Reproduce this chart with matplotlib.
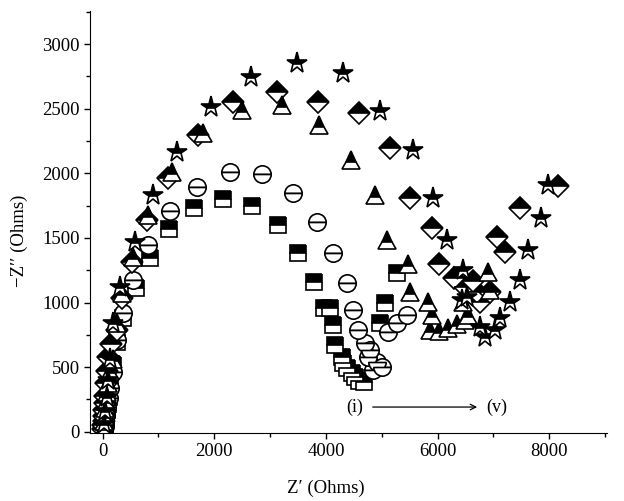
import matplotlib
matplotlib.use("Agg")
from matplotlib import pyplot as plt
from matplotlib.ticker import MultipleLocator

plt.rcParams["font.family"] = ["Liberation Serif", "DejaVu Serif"]

# (i) squares
sq_x = [20, 30, 40, 50, 60, 75, 90, 107, 131, 180, 256, 364, 591, 847, 1187, 1635, 2149, 2674, 3140,
        3498, 3785, 3964, 4076, 4131, 4161, 4281, 4310, 4370, 4460, 4519, 4600, 4680, 4967, 5060, 5280]
sq_y = [10, 30, 55, 85, 120, 165, 215, 270, 377, 520, 695, 880, 1112, 1344, 1569, 1731, 1801, 1747, 1600,
        1383, 1158, 957, 956, 826, 671, 580, 531, 493, 454, 426, 395, 385, 841, 994, 1228]

# (ii) circles
ci_x = [25, 35, 50, 65, 85, 110, 140, 190, 256, 364, 543, 812, 1205, 1691, 2284, 2853, 3403, 3833, 4125,
        4370, 4490, 4580, 4700, 4790, 4752, 4843, 4908, 4997, 5116, 5266, 5445]
ci_y = [15, 45, 85, 130, 190, 260, 340, 460, 710, 920, 1174, 1444, 1708, 1894, 2012, 1995, 1848, 1625, 1383,
        1149, 942, 787, 686, 632, 580, 478, 542, 503, 774, 841, 903]

# (iii) triangles
tr_x = [15, 22, 30, 40, 50, 60, 72, 100, 131, 190, 251, 340, 548, 817, 1235, 1802, 2490, 3206, 3875, 4442,
        4877, 5090, 5474, 5504, 5832, 5893, 5862, 6020, 6191, 6350, 6490, 6549, 6459, 6937, 6907]
tr_y = [10, 40, 80, 125, 180, 240, 310, 380, 470, 560, 839, 1071, 1354, 1677, 2012, 2310, 2490, 2527, 2372, 2103,
        1832, 1483, 1300, 1084, 1006, 903, 787, 780, 800, 830, 865, 903, 1006, 1097, 1238]

# (iv) diamonds
di_x = [10, 15, 20, 25, 30, 35, 41, 60, 80, 100, 150, 251, 340, 519, 788, 1176, 1708, 2335, 3117, 3851,
        4592, 5146, 5504, 5893, 6020, 6300, 6490, 6640, 6700, 6758, 6937, 7200, 7057, 7475, 8150]
di_y = [20, 50, 85, 125, 170, 220, 280, 375, 470, 580, 680, 787, 1032, 1316, 1638, 1961, 2296, 2554, 2632, 2554,
        2466, 2195, 1807, 1576, 1295, 1190, 1120, 1170, 1084, 1006, 1084, 1390, 1509, 1729, 1905]

# (v) stars
st_x = [30, 50, 70, 100, 140, 190, 310, 578, 907, 1325, 1940, 2656, 3475, 4299, 4967, 5558, 5917, 6162,
        6459, 6430, 6520, 6758, 6848, 7027, 7116, 7295, 7475, 7618, 7845, 7976]
st_y = [60, 160, 270, 400, 560, 839, 1122, 1471, 1832, 2167, 2516, 2748, 2856, 2776, 2485, 2180, 1807, 1483,
        1251, 1019, 1045, 813, 735, 787, 877, 1006, 1174, 1406, 1654, 1909]

fig = plt.figure(figsize=(6.24, 5.01), dpi=100)
ax = fig.add_axes([0.1442, 0.1357, 0.8285, 0.8423])

common = dict(ls="none", mec="black", mew=1.2, fillstyle="top", clip_on=True)
ax.plot(sq_x, sq_y, marker="s", ms=11, mfc="black", mfcalt="white", **common)
ax.plot(ci_x, ci_y, marker="o", ms=12.5, mfc="white", mfcalt="white", **common)
ax.plot(di_x, di_y, marker="D", ms=11, mfc="black", mfcalt="white", **common)
ax.plot(tr_x, tr_y, marker="^", ms=13, mfc="black", mfcalt="white", **common)
ax.plot(st_x, st_y, marker="*", ms=15.5, mfc="black", mfcalt="white", **common)

ax.set_xlim(-227, 9033)
ax.set_ylim(-10, 3256)
ax.spines["top"].set_visible(False)
ax.spines["right"].set_visible(False)

ax.xaxis.set_major_locator(MultipleLocator(2000))
ax.xaxis.set_minor_locator(MultipleLocator(1000))
ax.yaxis.set_major_locator(MultipleLocator(500))
ax.yaxis.set_minor_locator(MultipleLocator(250))
ax.tick_params(which="major", direction="out", length=4, width=1, labelsize=13.5)
ax.tick_params(which="minor", direction="out", length=3, width=1)

ax.set_xlabel("Z′ (Ohms)", fontsize=13.5)
ax.xaxis.set_label_coords(0.456, -0.111)
ax.set_ylabel("−Z′′ (Ohms)", fontsize=13.5)
ax.yaxis.set_label_coords(-0.12, 0.455)

ax.text(4519, 191, "(i)", ha="center", va="center", fontsize=13)
ax.annotate("", xy=(6758, 191), xytext=(4788, 191),
            arrowprops=dict(arrowstyle="->", lw=0.9, color="black"))
ax.text(7062, 191, "(v)", ha="center", va="center", fontsize=13)

fig.savefig("out.png", dpi=100)
